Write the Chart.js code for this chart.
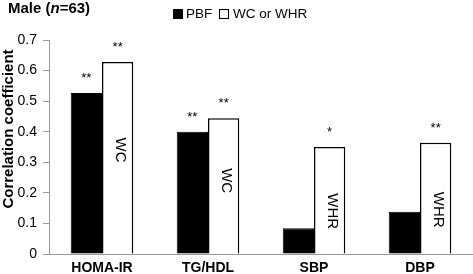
<!DOCTYPE html>
<html>
<head>
<meta charset="utf-8">
<script src="https://cdn.jsdelivr.net/npm/chart.js@4.4.1/dist/chart.umd.min.js"></script>
<style>
  html, body { margin: 0; padding: 0; background: #fff; }
  #wrap { width: 473px; height: 274px; position: relative; }
</style>
</head>
<body>
<div id="wrap"><canvas id="chart"></canvas></div>
<script>
const categories = ["HOMA-IR", "TG/HDL", "SBP", "DBP"];
const pbfValues = [0.527, 0.40, 0.084, 0.138];
const wcWhrValues = [0.628, 0.444, 0.35, 0.364];
const pbfStars = ["**", "**", "", ""];
const wcWhrStars = ["**", "**", "*", "**"];
const wcWhrNames = ["WC", "WC", "WHR", "WHR"];
const yTickLabels = ["0", "0.1", "0.2", "0.3", "0.4", "0.5", "0.6", "0.7"];

const FONT = '"Liberation Sans", Arial, sans-serif';

// stars above bars, measure name inside the white bars, title + legend
const annotate = {
  id: "annotate",
  afterDatasetsDraw(chart) {
    const ctx = chart.ctx;
    const yScale = chart.scales.y;
    const starSets = [pbfStars, wcWhrStars];
    ctx.save();
    ctx.fillStyle = "#000";
    ctx.textAlign = "center";
    ctx.textBaseline = "alphabetic";
    ctx.font = "13px " + FONT;
    chart.data.datasets.forEach((ds, di) => {
      chart.getDatasetMeta(di).data.forEach((bar, i) => {
        const s = starSets[di][i];
        if (s) ctx.fillText(s, bar.x, bar.y - 11);
      });
    });
    // rotated names inside the WC/WHR bars
    const nameAt = [0.34, 0.24, 0.14, 0.145];
    ctx.font = "15px " + FONT;
    ctx.textBaseline = "middle";
    chart.getDatasetMeta(1).data.forEach((bar, i) => {
      ctx.save();
      ctx.translate(bar.x + 3, yScale.getPixelForValue(nameAt[i]));
      ctx.rotate(Math.PI / 2);
      ctx.fillText(wcWhrNames[i], 0, 0);
      ctx.restore();
    });
    ctx.restore();
  },
  afterDraw(chart) {
    const ctx = chart.ctx;
    ctx.save();
    ctx.fillStyle = "#000";
    ctx.textBaseline = "alphabetic";
    ctx.textAlign = "left";
    // title
    let x = 8;
    const parts = [["bold", "Male ("], ["italic bold", "n"], ["bold", "=63)"]];
    parts.forEach(([w, t]) => {
      ctx.font = w + " 15px " + FONT;
      ctx.fillText(t, x, 13);
      x += ctx.measureText(t).width;
    });
    // y axis title
    ctx.save();
    ctx.font = "bold 15px " + FONT;
    ctx.textAlign = "center";
    ctx.textBaseline = "middle";
    ctx.translate(9, 129);
    ctx.rotate(-Math.PI / 2);
    ctx.fillText("Correlation coefficient", 0, 0);
    ctx.restore();
    // legend
    ctx.font = "13.5px " + FONT;
    ctx.fillRect(173, 9, 10, 10);
    ctx.fillText(chart.data.datasets[0].label, 186, 18);
    ctx.strokeStyle = "#000";
    ctx.lineWidth = 1;
    ctx.strokeRect(219.5, 9.5, 9, 9);
    ctx.fillText(chart.data.datasets[1].label, 233, 18);
    ctx.restore();
  }
};

new Chart(document.getElementById("chart"), {
  type: "bar",
  data: {
    labels: categories,
    datasets: [
      {
        label: "PBF",
        data: pbfValues,
        backgroundColor: "#000",
        borderColor: "#000",
        borderWidth: 1,
      },
      {
        label: "WC or WHR",
        data: wcWhrValues,
        backgroundColor: "#fff",
        borderColor: "#000",
        borderWidth: 1.5,
      },
    ],
  },
  options: {
    responsive: true,
    maintainAspectRatio: false,
    animation: false,
    datasets: { bar: { categoryPercentage: 0.59, barPercentage: 1 } },
    layout: { padding: { top: 40, left: 0, right: 0, bottom: 0 } },
    scales: {
      x: {
        afterFit: (s) => { s.height = 20; },
        grid: { display: false },
        border: { color: "#999" },
        ticks: {
          color: "#000",
          padding: -2,
          maxRotation: 0,
          font: { family: FONT, size: 14, weight: "bold" },
        },
      },
      y: {
        min: 0,
        max: 0.7,
        afterFit: (s) => { s.width = 49; },
        grid: { drawOnChartArea: false, tickLength: 6, color: "#999" },
        border: { color: "#999" },
        ticks: {
          stepSize: 0.1,
          padding: 6,
          color: "#000",
          font: { family: FONT, size: 14 },
          callback: (v, i) => yTickLabels[i],
        },
      },
    },
    plugins: {
      legend: { display: false },
      title: { display: false },
      tooltip: { enabled: false },
    },
  },
  plugins: [annotate],
});
</script>
</body>
</html>
